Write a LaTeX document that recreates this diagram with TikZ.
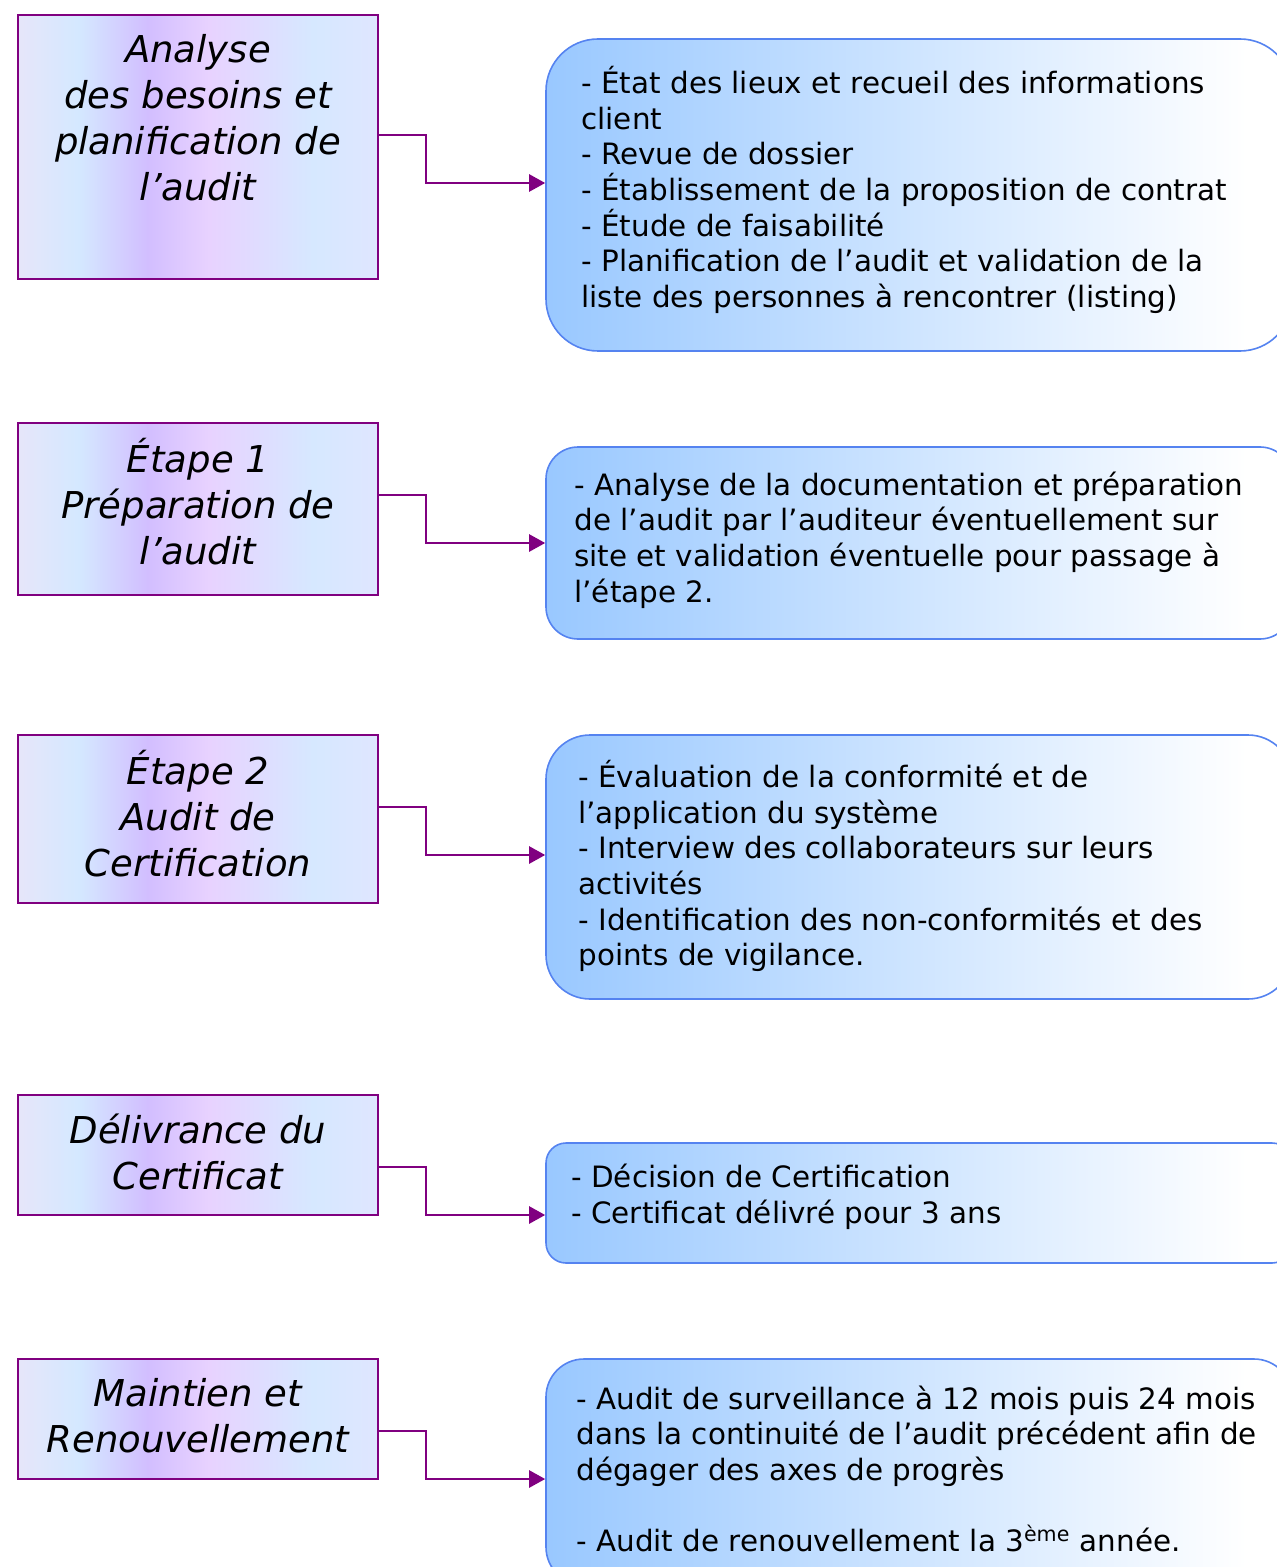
\documentclass[tikz,border=0pt]{standalone}
\usepackage{fontspec}
\setmainfont{DejaVu Sans}
\usetikzlibrary{arrows.meta}

\definecolor{lv0}{HTML}{E6E6FA}
\definecolor{lv1}{HTML}{D4E8FF}
\definecolor{lv2}{HTML}{D2BEFF}
\definecolor{lv3}{HTML}{E8D2FF}
\definecolor{lv4}{HTML}{D6E8FF}
\definecolor{lv5}{HTML}{DFE6FF}
\definecolor{bl0}{HTML}{99C8FF}
\definecolor{bl1}{HTML}{FFFFFF}
\definecolor{purp}{HTML}{800080}
\definecolor{bord}{HTML}{5583F0}

\pgfdeclarehorizontalshading{leftshade}{100bp}{color(0bp)=(lv0); color(25bp)=(lv0); color(33.5bp)=(lv1); color(43bp)=(lv2); color(51.5bp)=(lv3); color(66bp)=(lv4); color(75bp)=(lv5); color(100bp)=(lv5)}
\pgfdeclarehorizontalshading{rightshade}{100bp}{color(0bp)=(bl0); color(25bp)=(bl0); color(72bp)=(bl1); color(100bp)=(bl1)}

\begin{document}
\begin{tikzpicture}[x=0.5pt,y=-0.5pt,
  lbox/.style={draw=purp,line width=1pt,shade,shading=leftshade,rectangle,inner sep=0pt,minimum width=180pt},
  rbox/.style={draw=bord,line width=0.8pt,shade,shading=rightshade,rectangle,inner sep=0pt,minimum width=373pt},
  ltext/.style={font=\fontsize{18.5}{23}\selectfont\itshape,align=center,inner sep=0pt},
  rtext/.style={font=\fontsize{14.7}{17.85}\selectfont,align=left,inner sep=0pt,anchor=west},
  conn/.style={draw=purp,line width=1.2pt,-{Triangle[length=8pt,width=8.5pt]}}]

\useasboundingbox (0,0) rectangle (1277,1567);
\clip (0,0) rectangle (1277,1567);

% left boxes
\node[lbox,minimum height=132pt] (b1) at (198,147) {};
\node[lbox,minimum height=86pt]  (b2) at (198,509) {};
\node[lbox,minimum height=84pt]  (b3) at (198,819) {};
\node[lbox,minimum height=60pt]  (b4) at (198,1155) {};
\node[lbox,minimum height=60pt]  (b5) at (198,1419) {};

\node[ltext] (t1) at (198,118) {Analyse\\des besoins et\\planification de\\l’audit};
\node[ltext] (t2) at (198,502) {Étape 1\\Préparation de\\l’audit};
\node[ltext] (t3) at (198,814) {Étape 2\\Audit de\\Certification};
\node[ltext] (t4) at (198,1152) {Délivrance du\\Certificat};
\node[ltext] (t5) at (198,1416) {Maintien et\\Renouvellement};

% right boxes
\node[rbox,minimum height=156pt,rounded corners=26pt] (r1) at (919,195) {};
\node[rbox,minimum height=96pt,rounded corners=16pt]  (r2) at (919,543) {};
\node[rbox,minimum height=132pt,rounded corners=22pt] (r3) at (919,867) {};
\node[rbox,minimum height=60pt,rounded corners=10pt]  (r4) at (919,1203) {};
\node[rbox,minimum height=113pt,rounded corners=19pt] (r5) at (919,1472) {};

\node[rtext] (s1) at (581,190) {- État des lieux et recueil des informations\\client\\- Revue de dossier\\- Établissement de la proposition de contrat\\- Étude de faisabilité\\- Planification de l’audit et validation de la\\liste des personnes à rencontrer (listing)};
\node[rtext] (s2) at (574,540) {- Analyse de la documentation et préparation\\de l’audit par l’auditeur éventuellement sur\\site et validation éventuelle pour passage à\\l’étape 2.};
\node[rtext] (s3) at (578,866) {- Évaluation de la conformité et de\\l’application du système\\- Interview des collaborateurs sur leurs\\activités\\- Identification des non-conformités et des\\points de vigilance.};
\node[rtext] (s4) at (571,1197) {- Décision de Certification\\- Certificat délivré pour 3 ans};
\node[rtext] (s5) at (576,1469) {- Audit de surveillance à 12 mois puis 24 mois\\dans la continuité de l’audit précédent afin de\\dégager des axes de progrès\\[17.85pt]- Audit de renouvellement la 3\textsuperscript{ème} année.};

% connectors
\draw[conn] (b1.east |- 0,135)  -- (426,135)  |- (r1.west |- 0,183);
\draw[conn] (b2.east |- 0,495)  -- (426,495)  |- (r2.west |- 0,543);
\draw[conn] (b3.east |- 0,807)  -- (426,807)  |- (r3.west |- 0,855);
\draw[conn] (b4.east |- 0,1167) -- (426,1167) |- (r4.west |- 0,1215);
\draw[conn] (b5.east |- 0,1431) -- (426,1431) |- (r5.west |- 0,1479);
\end{tikzpicture}
\end{document}
